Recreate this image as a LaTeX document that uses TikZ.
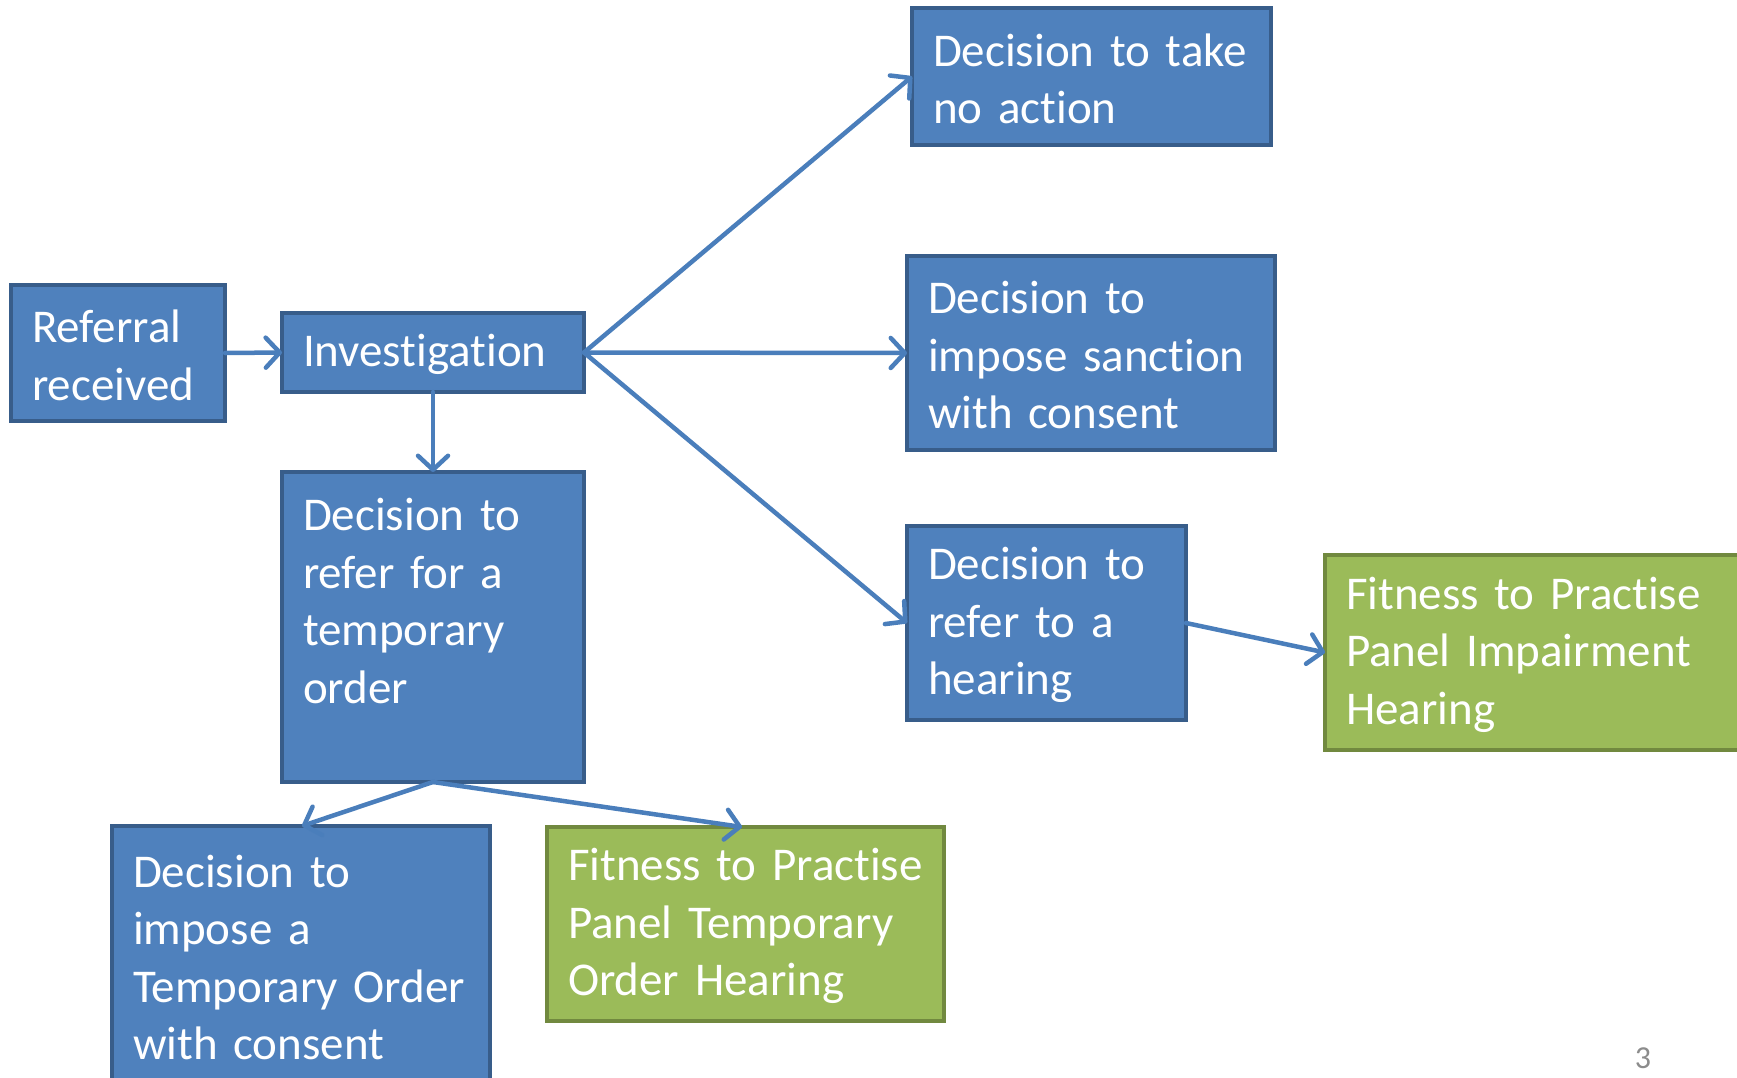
\documentclass[tikz,border=0pt]{standalone}
\usepackage{fontspec}
\setmainfont{Carlito}[Ligatures=NoCommon]
\usetikzlibrary{arrows.meta,calc}
\definecolor{bfill}{HTML}{4F81BD}
\definecolor{bline}{HTML}{385D8A}
\definecolor{gfill}{HTML}{9BBB59}
\definecolor{gline}{HTML}{71893F}
\definecolor{arr}{HTML}{4A7EBB}
\definecolor{pgnum}{HTML}{8C8C8C}
\begin{document}
\begin{tikzpicture}[x=1pt,y=-1pt,
  box/.style={draw=bline, fill=bfill, line width=4pt, text=white,
    inner xsep=21pt, inner ysep=0pt, align=left, outer sep=0pt,
    font=\fontsize{47}{57.5}\selectfont, anchor=north west,
    execute at begin node={\rule{0pt}{37pt}}},
  gbox/.style={box, draw=gline, fill=gfill},
  conn/.style={draw=arr, line width=4.5pt, line cap=round,
    -{Straight Barb[length=14pt,width=30pt,round]}}
]
\useasboundingbox (0,0) rectangle (1737,1077);

\node[box, text width=172pt, minimum height=136pt] (ref) at (11,285) {Referral\\received};
\node[box, text width=260pt, minimum height=79pt] (inv) at (282,313) {Investigation};
\node[box, text width=317pt, minimum height=137pt] (noact) at (912,8) {Decision~to~take\\no~action};
\node[box, text width=326pt, minimum height=194pt] (sanc) at (907,256) {Decision~to\\impose~sanction\\with~consent};
\node[box, text width=237pt, minimum height=194pt] (hear) at (907,526) {Decision~to\\refer~to~a\\hearing};
\node[gbox, text width=378pt, minimum height=195pt] (imp) at (1325,555) {Fitness~to~Practise\\Panel~Impairment\\Hearing};
\node[box, text width=260pt, minimum height=310pt] (temp) at (282,472) {Decision~to\\refer~for~a\\temporary\\order\\\mbox{}};
\node[box, text width=336pt, minimum height=258pt] (impo) at (112,826) {Decision~to\\impose~a\\Temporary~Order\\with~consent};
\node[gbox, text width=355pt, minimum height=194pt] (toh) at (547,827) {Fitness~to~Practise\\Panel~Temporary\\Order~Hearing};

\node[text=pgnum, font=\fontsize{32}{38}\selectfont] (pg) at (1643,1058) {3};

\draw[conn] (ref.east) -- (inv.west);
\draw[conn] (inv.east) -- (noact.west);
\draw[conn] (inv.east) -- (sanc.west);
\draw[conn] (inv.east) -- (hear.west);
\draw[conn] (inv.south) -- (temp.north);
\draw[conn] (hear.east) -- (imp.west);
\draw[conn] (temp.south) -- ([xshift=190pt]impo.north west);
\draw[conn] (temp.south) -- ([xshift=195pt]toh.north west);
\end{tikzpicture}
\end{document}
